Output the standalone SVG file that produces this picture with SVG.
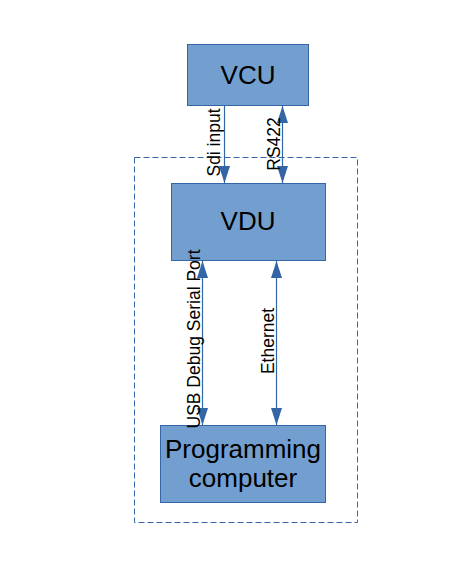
<svg xmlns="http://www.w3.org/2000/svg" width="463" height="581" viewBox="0 0 463 581">
<style>
.box{fill:#729fcf;stroke:#3465a4;stroke-width:1}
.big{font-family:"Liberation Sans",Arial,sans-serif;font-size:26px;fill:#000;text-anchor:middle}
.lbl{font-family:"Liberation Sans",Arial,sans-serif;font-size:17.5px;fill:#000;text-anchor:middle}
.ln{stroke:#3465a4;stroke-width:1.2;fill:none}
</style>
<defs>
<marker id="ah" viewBox="0 0 17 11" refX="17" refY="5.5" markerWidth="17" markerHeight="11" markerUnits="userSpaceOnUse" orient="auto-start-reverse">
<path d="M0,0 L17,5.5 L0,11 Z" fill="#3465a4"/>
</marker>
</defs>
<rect id="boundary" x="134.5" y="157.5" width="223" height="365" fill="none" stroke="#3465a4" stroke-width="1" stroke-dasharray="6 3"/>
<g id="VCU"><rect class="box" x="187.5" y="44.5" width="121" height="61"/><text class="big" x="248" y="83.5">VCU</text></g>
<g id="VDU"><rect class="box" x="171.5" y="183.5" width="154" height="77"/><text class="big" x="248" y="230">VDU</text></g>
<g id="PC"><rect class="box" x="160.5" y="425.5" width="165" height="77"/><text class="big" x="243" y="458.3">Programming</text><text class="big" x="243" y="486.7">computer</text></g>
<g id="connectors">
<line class="ln" x1="224.5" y1="105.5" x2="224.5" y2="183" marker-end="url(#ah)"/>
<line class="ln" x1="282.5" y1="106" x2="282.5" y2="183" marker-start="url(#ah)" marker-end="url(#ah)"/>
<line class="ln" x1="202.5" y1="261" x2="202.5" y2="425" marker-start="url(#ah)" marker-end="url(#ah)"/>
<line class="ln" x1="276.5" y1="261" x2="276.5" y2="425" marker-start="url(#ah)" marker-end="url(#ah)"/>
<text class="lbl" transform="translate(219.5,142.5) rotate(-90)">Sdi input</text>
<text class="lbl" transform="translate(279.5,144) rotate(-90)">RS422</text>
<text class="lbl" transform="translate(199.5,339) rotate(-90)">USB Debug Serial Port</text>
<text class="lbl" transform="translate(273.5,341) rotate(-90)">Ethernet</text>
</g>
</svg>
